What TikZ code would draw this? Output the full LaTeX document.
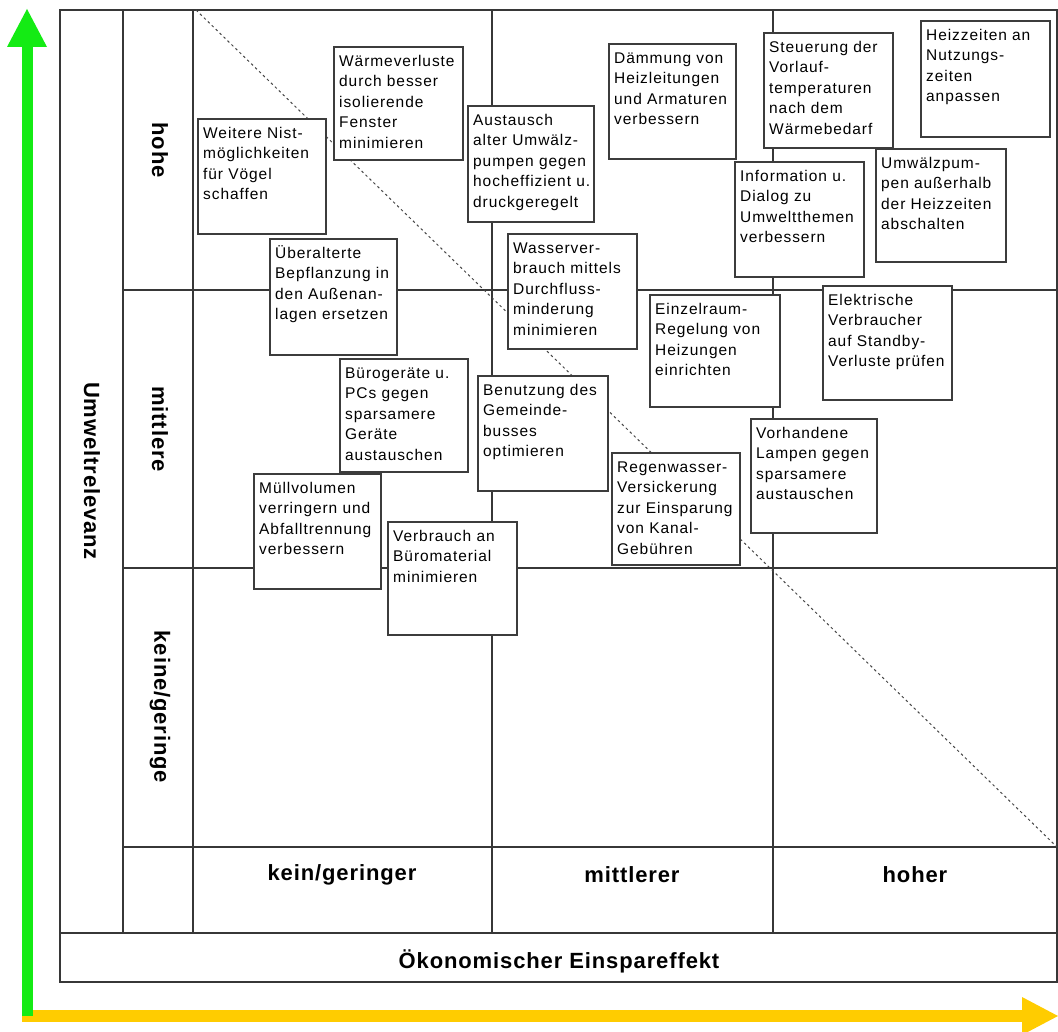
\documentclass[tikz,border=0pt]{standalone}
\usepackage{fontspec}
\setmainfont{Liberation Sans}
\newfontfamily\boxfont[LetterSpace=6]{Liberation Sans}
\newfontfamily\labfont[LetterSpace=4]{Liberation Sans}
\usetikzlibrary{arrows.meta}
\definecolor{axgreen}{RGB}{20,235,20}
\definecolor{axyellow}{RGB}{255,204,0}
\definecolor{gridc}{RGB}{55,55,55}
\definecolor{boxc}{RGB}{60,60,60}
% name, x1, y1, x2, y2, text
\newcommand\mbx[6]{%
  \node[mbx, minimum width={#4-#2}, minimum height={#5-#3}] (#1) at (#2,#3) {};
  \node[mtxt] (#1t) at ([shift={(5pt,-5pt)}]#1.north west) {\rule{0pt}{14pt}#6};
}
\begin{document}
\begin{tikzpicture}[x=1pt,y=-1pt,
  gridl/.style={draw=gridc, line width=1.6pt},
  mbx/.style={draw=boxc, fill=white, line width=2pt, anchor=north west, inner sep=0pt, outer sep=0pt},
  mtxt/.style={anchor=north west, inner sep=0pt, align=left, font=\boxfont\fontsize{15.5}{20.5}\selectfont},
  lab/.style={font=\labfont\bfseries\fontsize{22}{26}\selectfont, inner sep=0pt},
  diag/.style={draw=gray!55!black, line width=1pt, dash pattern=on 2.5pt off 3pt}]
\fill[white] (0,0) rectangle (1058,1032);
\useasboundingbox (0,0) rectangle (1058,1032);

% axes
\coordinate (Ys) at (22,1016);
\coordinate (Xtip) at (1058,1016);
\coordinate (Gs) at (27,1016);
\coordinate (Ytip) at (27,9);
\draw[line width=12pt, axyellow, -{Triangle[length=36pt,width=38pt,line width=0pt]}] (Ys) -- (Xtip);
\draw[line width=11pt, axgreen, -{Triangle[length=38pt,width=40pt,line width=0pt]}] (Gs) -- (Ytip);

% grid
\draw[gridl] (60,10) rectangle (1057,982);
\draw[gridl] (123,10) -- (123,933);
\draw[gridl] (193,10) -- (193,933);
\draw[gridl] (492,10) -- (492,933);
\draw[gridl] (773,10) -- (773,933);
\draw[gridl] (123,290) -- (1057,290);
\draw[gridl] (123,568) -- (1057,568);
\draw[gridl] (123,847) -- (1057,847);
\draw[gridl] (60,933) -- (1057,933);

% diagonal
\coordinate (D1) at (196,10);
\coordinate (D2) at (1057,847);
\draw[diag] (D1) -- (D2);

% labels
\node[lab, rotate=-90] (rh) at (160,150) {hohe};
\node[lab, rotate=-90] (rm) at (160,429) {mittlere};
\node[lab, rotate=-90] (rk) at (160,707) {keine/geringe};
\node[lab, rotate=-90] (ru) at (92,471) {Umweltrelevanz};
\node[lab] (ck) at (342,875) {kein/geringer};
\node[lab] (cm) at (632,875) {mittlerer};
\node[lab] (ch) at (915,875) {hoher};
\node[lab] (ce) at (559,961) {Ökonomischer Einspareffekt};

% boxes
\mbx{b1}{198}{119}{326}{234}{Weitere Nist-\\möglichkeiten\\für Vögel\\schaffen}
\mbx{b2}{334}{47}{463}{160}{Wärmeverluste\\durch besser\\isolierende\\Fenster\\minimieren}
\mbx{b3}{468}{106}{594}{222}{Austausch\\alter Umwälz-\\pumpen gegen\\hocheffizient u.\\druckgeregelt}
\mbx{b4}{609}{44}{736}{159}{Dämmung von\\Heizleitungen\\und Armaturen\\verbessern}
\mbx{b5}{764}{33}{893}{148}{Steuerung der\\Vorlauf-\\temperaturen\\nach dem\\Wärmebedarf}
\mbx{b6}{921}{21}{1050}{137}{Heizzeiten an\\Nutzungs-\\zeiten\\anpassen}
\mbx{b7}{735}{162}{864}{277}{Information u.\\Dialog zu\\Umweltthemen\\verbessern}
\mbx{b8}{876}{149}{1006}{262}{Umwälzpum-\\pen außerhalb\\der Heizzeiten\\abschalten}
\mbx{b9}{270}{239}{397}{355}{Überalterte\\Bepflanzung in\\den Außenan-\\lagen ersetzen}
\mbx{b10}{508}{234}{637}{349}{Wasserver-\\brauch mittels\\Durchfluss-\\minderung\\minimieren}
\mbx{b11}{340}{359}{468}{472}{Bürogeräte u.\\PCs gegen\\sparsamere\\Geräte\\austauschen}
\mbx{b12}{478}{376}{608}{491}{Benutzung des\\Gemeinde-\\busses\\optimieren}
\mbx{b13}{254}{474}{381}{589}{Müllvolumen\\verringern und\\Abfalltrennung\\verbessern}
\mbx{b14}{388}{522}{517}{635}{Verbrauch an\\Büromaterial\\minimieren}
\mbx{b15}{650}{295}{780}{407}{Einzelraum-\\Regelung von\\Heizungen\\einrichten}
\mbx{b16}{823}{286}{952}{400}{Elektrische\\Verbraucher\\auf Standby-\\Verluste prüfen}
\mbx{b17}{612}{453}{740}{565}{Regenwasser-\\Versickerung\\zur Einsparung\\von Kanal-\\Gebühren}
\mbx{b18}{751}{419}{877}{533}{Vorhandene\\Lampen gegen\\sparsamere\\austauschen}
\end{tikzpicture}
\end{document}
